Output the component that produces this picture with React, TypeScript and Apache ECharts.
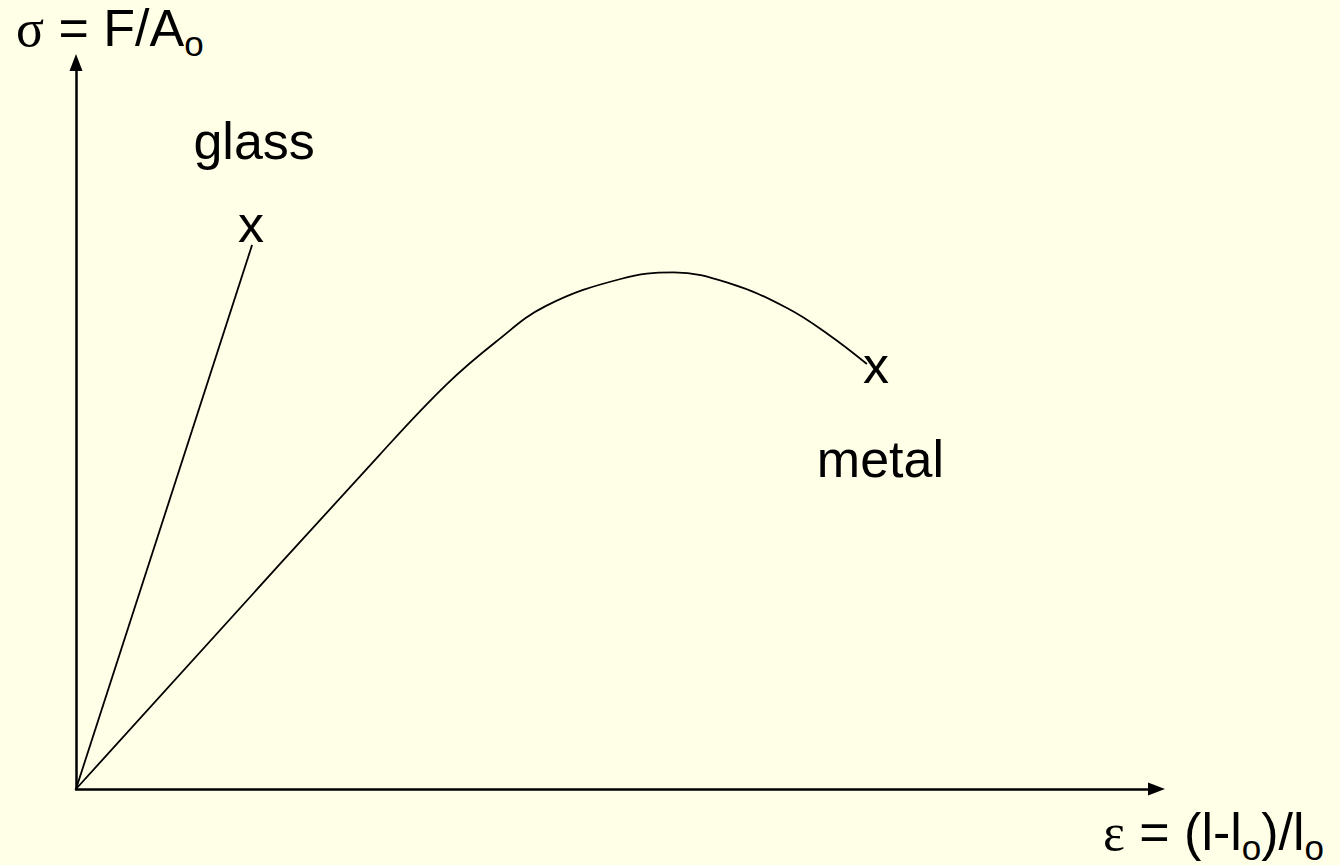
import { useEffect, useRef } from 'react';
import * as echarts from 'echarts';

// ---- data (arbitrary units: strain 0..100, stress 0..100) ----
const glassStrain = [0, 16.3];
const glassStress = [0, 74.9];
const metalStrain = [0, 28.1, 34.3, 38.9, 43.5, 50.4, 55.3, 60.5, 65.8, 69.6, 73.2];
const metalStress = [0, 46.0, 55.7, 61.6, 66.5, 70.2, 71.1, 69.6, 66.2, 62.6, 58.5];
const seriesNames = ['glass', 'metal'];
const fractureMark = 'x';
const yTitleParts = ['σ', ' = F/A', 'o'];
const xTitleParts = ['ε', ' = (l-l', 'o', ')/l', 'o'];

const SANS = '"Liberation Sans", Arial, sans-serif';
const SERIF = '"Liberation Serif", "Times New Roman", serif';
const FS = 52;
const SUB_FS = 35;

const richBase = {
  g: { fontFamily: SERIF, fontSize: FS, color: '#000', lineHeight: 60 },
  m: { fontFamily: SANS, fontSize: FS, color: '#000', lineHeight: 60 },
  s: { fontFamily: SANS, fontSize: SUB_FS, color: '#000', lineHeight: 10, padding: [30, 0, 0, 0] },
};

export default function App() {
  const ref = useRef<HTMLDivElement>(null);

  useEffect(() => {
    if (!ref.current) return;
    const chart = echarts.init(ref.current, undefined, { renderer: 'svg' });

    const glassData: any[] = glassStrain.map((x, i) => {
      const v = [x, glassStress[i]];
      if (i !== glassStrain.length - 1) return v;
      return {
        value: v,
        label: {
          show: true,
          position: 'top',
          distance: 0,
          align: 'center',
          verticalAlign: 'bottom',
          formatter: `{n|${seriesNames[0]}}\n{x|${fractureMark}}`,
          rich: {
            n: { fontFamily: SANS, fontSize: FS, color: '#000', lineHeight: 126, padding: [0, 0, 0, 4] },
            x: { fontFamily: SANS, fontSize: FS, color: '#000', lineHeight: 40, padding: [0, 2, 0, 0] },
          },
        },
      };
    });

    const metalData: any[] = metalStrain.map((x, i) => {
      const v = [x, metalStress[i]];
      if (i !== metalStrain.length - 1) return v;
      return {
        value: v,
        label: {
          show: true,
          position: 'inside',
          align: 'center',
          verticalAlign: 'top',
          offset: [11, -19],
          formatter: `{x|${fractureMark}}\n{n|${seriesNames[1]}}`,
          rich: {
            x: { fontFamily: SANS, fontSize: FS, color: '#000', lineHeight: 40, padding: [0, 4, 0, 0] },
            n: { fontFamily: SANS, fontSize: FS, color: '#000', lineHeight: 148, padding: [0, 0, 0, 5] },
          },
        },
      };
    });

    const axisCommon = {
      type: 'value' as const,
      min: 0,
      max: 100,
      axisLine: {
        show: true,
        symbol: ['none', 'triangle'],
        symbolSize: [13, 17],
        lineStyle: { color: '#000', width: 2.5 },
      },
      axisTick: { show: false },
      axisLabel: { show: false },
      splitLine: { show: false },
    };

    const lineCommon = {
      type: 'line' as const,
      showSymbol: true,
      symbol: 'circle',
      symbolSize: 1,
      itemStyle: { color: 'rgba(0,0,0,0)' },
      lineStyle: { color: '#000', width: 1.8 },
      silent: true,
      label: { show: false },
    };

    chart.setOption({
      animation: false,
      backgroundColor: '#FFFFE8',
      grid: { left: 76, right: 183.5, top: 62.5, bottom: 76, containLabel: false },
      xAxis: { ...axisCommon },
      yAxis: { ...axisCommon },
      series: [
        { ...lineCommon, name: seriesNames[0], data: glassData },
        { ...lineCommon, name: seriesNames[1], data: metalData, smooth: 0.4 },
      ],
      graphic: [
        {
          type: 'text',
          x: 16,
          y: 28,
          style: {
            text: `{g|${yTitleParts[0]}}{m|${yTitleParts[1]}}{s|${yTitleParts[2]}}`,
            rich: richBase,
            align: 'left',
            verticalAlign: 'middle',
          },
        },
        {
          type: 'text',
          x: 1103,
          y: 832,
          style: {
            text: `{g|${xTitleParts[0]}}{m|${xTitleParts[1]}}{s|${xTitleParts[2]}}{m|${xTitleParts[3]}}{s|${xTitleParts[4]}}`,
            rich: richBase,
            align: 'left',
            verticalAlign: 'middle',
          },
        },
      ],
    });

    return () => chart.dispose();
  }, []);

  return (
    <div
      ref={ref}
      style={{ position: 'fixed', left: 0, top: 0, width: 1340, height: 865 }}
    />
  );
}
